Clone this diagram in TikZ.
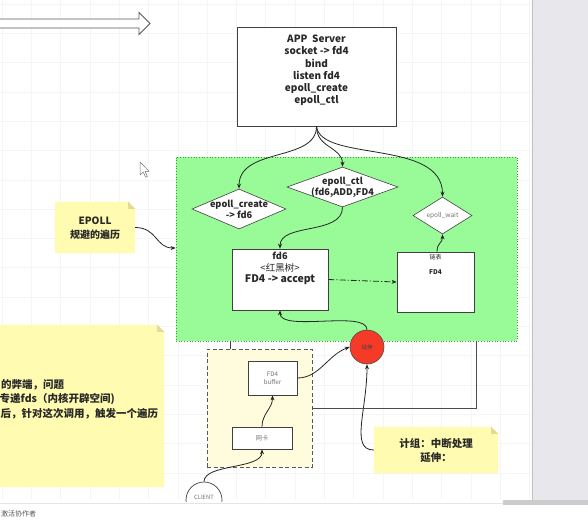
\documentclass[tikz,border=0pt]{standalone}
\usepackage{fontspec}
\setmainfont{Noto Sans CJK SC}
\usetikzlibrary{shapes.geometric,arrows.meta,calc}
\definecolor{canvasgrid}{RGB}{245,245,245}
\definecolor{zonegreen}{RGB}{152,251,152}
\definecolor{zoneedge}{RGB}{70,150,70}
\definecolor{notefill}{RGB}{255,251,176}
\definecolor{notefold}{RGB}{226,218,150}
\definecolor{hotred}{RGB}{246,58,40}
\definecolor{panelgray}{RGB}{232,232,236}
\definecolor{softtext}{RGB}{115,115,115}
\definecolor{inktext}{RGB}{40,40,40}
\definecolor{bufferfill}{RGB}{255,252,222}

\begin{document}
\begin{tikzpicture}[x=1pt,y=-1pt,
  conn/.style={draw=black!85, line width=0.8pt, -{Stealth[length=5pt,width=4pt]}},
  plainbox/.style={draw=black!75, fill=white, line width=0.7pt, inner sep=0pt},
  choice/.style={diamond, draw=black!75, fill=white, line width=0.6pt, inner sep=0pt},
  boldtxt/.style={align=center, text=inktext, inner sep=0pt, font=\bfseries\fontsize{9.2}{11.2}\selectfont},
  softtxt/.style={align=center, text=softtext, inner sep=0pt, font=\fontsize{6.2}{7.6}\selectfont},
  notetxt/.style={align=center, text=inktext, inner sep=0pt, font=\bfseries\fontsize{10.5}{14}\selectfont},
  holder/.style={inner sep=0pt, draw=none}
]
\useasboundingbox (0,0) rectangle (588,519);

% window background, side panel and bottom strip
\fill[white] (0,0) rectangle (588,519);
\fill[panelgray] (532,0) rectangle (588,501);
\draw[black!25, line width=1.4pt] (532.5,0) -- (532.5,501);
\fill[black!20] (503,500) rectangle (588,504.5);
\draw[black!10, line width=0.6pt] (0,503.5) -- (503,503.5);

% faint canvas grid
\begin{scope}
  \clip (0,0) rectangle (531.5,500);
  \foreach \i in {0,...,18} {\draw[canvasgrid, line width=0.5pt] ({2+29.3*\i},0) -- ({2+29.3*\i},500);}
  \foreach \i in {0,...,17} {\draw[canvasgrid, line width=0.5pt] (0,{4+29.3*\i}) -- (531.5,{4+29.3*\i});}
\end{scope}

% hollow block arrow, top left
\draw[black!65, fill=white, line width=0.9pt]
  (-2,19) -- (139,19) -- (139,12.5) -- (150,23.5) -- (139,34.5) -- (139,28) -- (-2,28);

% mouse pointer
\draw[black!55, fill=white, line width=0.5pt, line join=round]
  (140,162) -- (140,175) -- (143.2,172) -- (145.6,177.2) -- (147.4,176.4) -- (145,171.4) -- (149.2,171.4) -- cycle;

% green epoll zone
\node[holder, fill=zonegreen, draw=zoneedge, dotted, line width=0.7pt,
      minimum width=341pt, minimum height=184pt] (zone) at (346.5,249) {};

% yellow notes with folded corner
\node[holder, minimum width=80pt, minimum height=51pt] (epnote) at (95,227.5) {};
\node[holder, minimum width=124pt, minimum height=46pt] (irqnote) at (436,450) {};
\node[holder, minimum width=167pt, minimum height=162pt] (bignote) at (80.5,406) {};
\foreach \n in {epnote,irqnote,bignote} {
  \fill[notefill] (\n.south west) -- (\n.north west) -- ($(\n.north east)+(-7,0)$)
    -- ($(\n.north east)+(0,7)$) -- (\n.south east) -- cycle;
  \fill[notefold] ($(\n.north east)+(-7,0)$) -- ($(\n.north east)+(-7,7)$) -- ($(\n.north east)+(0,7)$) -- cycle;
}

% server box
\node[plainbox, minimum width=159pt, minimum height=99pt] (app) at (316.5,76.5) {};
\node[boldtxt, font=\bfseries\fontsize{10}{12.2}\selectfont] at (316.5,70.5)
  {APP\ \ Server\\socket -> fd4\\bind\\listen fd4\\epoll\_create\\epoll\_ctl};

% decisions
\node[choice, minimum width=94pt, minimum height=40pt] (mkfd) at (239,209) {};
\node[boldtxt] at (mkfd) {epoll\_create\\-> fd6};
\node[choice, minimum width=111pt, minimum height=40pt] (ctl) at (342.5,187) {};
\node[boldtxt] at (ctl) {epoll\_ctl\\(fd6,ADD,FD4};
\node[choice, minimum width=59pt, minimum height=37pt] (wait) at (442.5,215.5) {};
\node[softtxt, font=\fontsize{6.5}{8}\selectfont] at (wait) {epoll\_wait};

% red-black tree box and ready list box
\node[plainbox, minimum width=96pt, minimum height=61pt] (tree) at (280,279.5) {};
\node[boldtxt] at (280,255.5) {fd6};
\node[boldtxt, font=\fontsize{9.5}{11}\selectfont] at (280,267.5) {<红黑树>};
\node[boldtxt, font=\bfseries\fontsize{10.5}{12}\selectfont] at (280,279.5) {FD4 -> accept};
\node[plainbox, minimum width=77pt, minimum height=60pt] (ready) at (435.5,282) {};
\node[boldtxt, font=\fontsize{6}{7}\selectfont] at (435.5,257) {链表};
\node[boldtxt, font=\bfseries\fontsize{6.5}{7.5}\selectfont] at (435.5,272) {FD4};

% interrupt circle
\node[circle, draw=black!70, fill=hotred, line width=0.6pt, minimum size=34pt, inner sep=0pt] (irq) at (367,347) {};
\node[inner sep=0pt, text=black!75, font=\fontsize{5.5}{6}\selectfont] at (irq) {延伸};

% kernel side: dashed container, buffer, NIC
\node[holder, draw=black!65, fill=bufferfill, dashed, dash pattern=on 4pt off 2.5pt, line width=0.9pt,
      minimum width=105pt, minimum height=118pt] (kern) at (259.5,408) {};
\node[plainbox, minimum width=49pt, minimum height=34pt] (buf) at (272.5,378) {};
\node[softtxt] at (buf) {FD4\\buffer};
\node[plainbox, minimum width=60pt, minimum height=22pt] (nic) at (262,438) {};
\node[softtxt] at (nic) {网卡};

% client, cut by the canvas edge
\begin{scope}
  \clip (0,0) rectangle (531.5,501.5);
  \node[circle, draw=black!75, fill=white, line width=0.7pt, minimum size=36pt, inner sep=0pt] (client) at (204,500) {};
  \node[softtxt, font=\fontsize{5.8}{7}\selectfont] at (204,497.5) {CLIENT};
\end{scope}

% note texts
\node[notetxt, font=\bfseries\fontsize{10}{14}\selectfont] at (95,228) {EPOLL\\规避的遍历};
\node[notetxt, font=\bfseries\fontsize{10.5}{14}\selectfont] at (436,450.5) {计组：中断处理\\延伸：};
\begin{scope}[every node/.style={anchor=west, inner sep=0pt, text=inktext, font=\bfseries\fontsize{10.5}{12}\selectfont}]
  \node at (1,385) {的弊端，问题};
  \node at (-0.5,399.5) {专递fds（内核开辟空间)};
  \node at (0.5,414) {后，针对这次调用，触发一个遍历};
\end{scope}

% connectors
\draw[conn] (app.south) .. controls +(0,36) and +(0,-42) .. (mkfd.north);
\draw[conn] (app.south) .. controls +(0,22) and +(0,-20) .. (ctl.north);
\draw[conn] (app.south) .. controls +(4,36) and +(0,-58) .. (wait.north);
\draw[conn] (ctl.south) .. controls +(0,28) and +(0,-26) .. (tree.north);
\draw[conn] ($(ready.north)+(1.5,0)$) .. controls +(0,-9) and +(0,9) .. (wait.south);
\draw[conn, dash pattern=on 6pt off 2pt on 1.2pt off 2pt] (tree.east) -- (ready.west);
\draw[conn] (irq.north) .. controls +(0,-20) and +(0,22) .. (tree.south);
\draw[conn] (buf.east) .. controls +(22,0) and +(-22,8) .. (irq.west);
\draw[conn] (nic.north) .. controls +(0,-13) and +(0,13) .. (buf.south);
\draw[conn] (client.north) .. controls +(0,-18) and +(0,20) .. (nic.south);
\draw[conn] (irqnote.west) .. controls +(-24,0) and +(0,46) .. (irq.south);
\draw[conn] (epnote.east) .. controls +(22,0) and +(-20,0) .. (zone.west |- 0,248);
\coordinate (kerntop) at (230,349);
\coordinate (zonefoot) at (230,341);
\draw[black!75, line width=0.8pt] (kerntop) -- (zonefoot);
\coordinate (rim) at (476,341);
\draw[black!70, line width=0.8pt] (kern.east) -| (rim);

% footer text
\node[anchor=west, inner sep=0pt, text=black!65, font=\fontsize{7}{8}\selectfont] at (1,513.5) {激活协作者};
\end{tikzpicture}
\end{document}
